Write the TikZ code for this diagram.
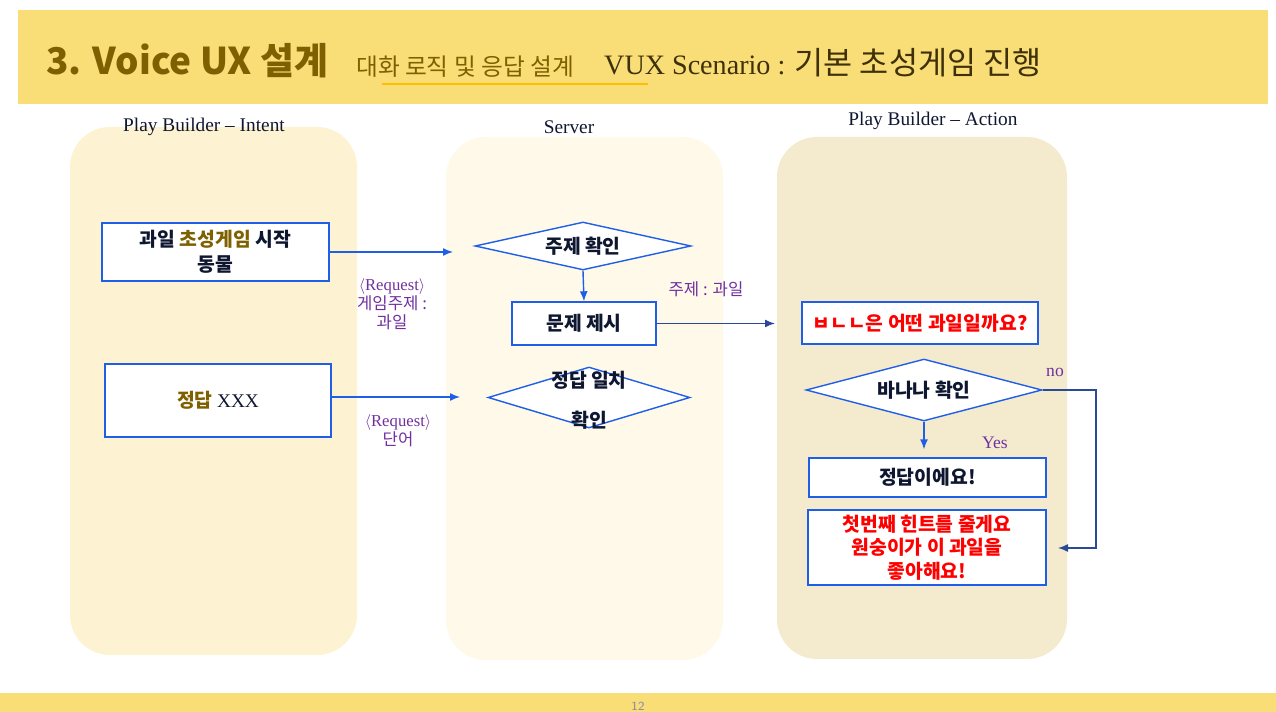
\documentclass[tikz,border=0pt]{standalone}
\usepackage{fontspec}
\setmainfont{Liberation Serif}
\newfontfamily\kr{Noto Sans CJK KR}
\usetikzlibrary{shapes.geometric,arrows.meta}
\definecolor{hdr}{HTML}{F9DE78}
\definecolor{gold}{HTML}{7F6000}
\definecolor{titlebrown}{HTML}{3F3008}
\definecolor{lanea}{HTML}{FDF2D2}
\definecolor{laneb}{HTML}{FEF9E9}
\definecolor{lanec}{HTML}{F4EACD}
\definecolor{boxblue}{HTML}{1F5FE8}
\definecolor{navy}{HTML}{2A4A98}
\definecolor{txt}{HTML}{0E1630}
\definecolor{lblpurple}{HTML}{7030A0}
\definecolor{pagenum}{HTML}{8C88A8}
\definecolor{undl}{HTML}{FFC000}
\begin{document}
\begin{tikzpicture}[x=0.02cm,y=-0.02cm,
	lane/.style={rounded corners=0.8cm},
	box/.style={draw=boxblue,line width=0.8pt,fill=white,inner sep=0pt,align=center,text=txt,font=\kr\bfseries\fontsize{11}{14}\selectfont},
	dia/.style={diamond,draw=boxblue,line width=0.8pt,fill=white,inner sep=0pt},
	flow/.style={draw=boxblue,line width=0.8pt,-{Latex[length=2mm,width=1.6mm]}},
	lbl/.style={text=lblpurple,align=center,font=\kr\fontsize{9.5}{10.8}\selectfont},
	head/.style={text=txt,font=\fontsize{11}{13}\selectfont}]
		\useasboundingbox (0,0) rectangle (1276,712);
		
		\fill[hdr] (18,10) rectangle (1268,104);
		\fill[hdr] (0,693) rectangle (1276,712);
		\draw[undl,line width=0.6pt] (382,84) -- (648,84);
		
		\node[anchor=west,text=gold,font=\kr\bfseries\fontsize{21}{25}\selectfont] (title) at (40,61) {3. Voice UX 설계};
		\node[anchor=west,text=gold,font=\kr\fontsize{13.5}{16}\selectfont] (subtitle) at (350,67) {대화 로직 및 응답 설계};
		\node[anchor=west,text=titlebrown,font=\fontsize{16}{20}\selectfont] (scenario) at (598,63) {VUX Scenario : {\kr\fontsize{18}{20}\selectfont 기본 초성게임 진행}};
		\node[text=pagenum,font=\sffamily\fontsize{7}{8}\selectfont] (page) at (638,706) {12};
		
		\fill[lanea,lane] (70,127) rectangle (357,655);
		\fill[laneb,lane] (446,137) rectangle (723,660);
		\fill[lanec,lane] (777,137) rectangle (1067,659);
		
		\node[head] (intent) at (204,127) {Play Builder -- Intent};
		\node[head] (server) at (569,127) {Server};
		\node[head] (action) at (933,121) {Play Builder -- Action};
		
		\node[box,minimum width=4.54cm,minimum height=1.16cm] (start) at (215.5,252) {과일 {\color{gold}초성게임} 시작\\동물};
		\node[box,minimum width=4.52cm,minimum height=1.46cm] (answer) at (218,400.5) {{\color{gold}정답} {\rmfamily\mdseries XXX}};
		
		\node[dia,minimum width=4.32cm,minimum height=0.96cm] (topic) at (583,246) {};
		\node[text=txt,font=\kr\bfseries\fontsize{11}{14}\selectfont] at (topic) {주제 확인};
		\node[box,minimum width=2.88cm,minimum height=0.86cm] (quiz) at (584,323.5) {문제 제시};
		\node[dia,minimum width=4.04cm,minimum height=1.22cm] (match) at (589,397.5) {};
		\node[text=txt,align=center,font=\kr\bfseries\fontsize{11}{23}\selectfont] at (589,400) {정답 일치\\확인};
		
		\node[box,text=red,minimum width=4.72cm,minimum height=0.84cm] (ask) at (920,323) {ㅂㄴㄴ은 어떤 과일일까요?};
		\node[dia,minimum width=4.72cm,minimum height=1.24cm] (banana) at (924,390) {};
		\node[text=txt,font=\kr\bfseries\fontsize{11}{14}\selectfont] at (banana) {바나나 확인};
		\node[box,minimum width=4.74cm,minimum height=0.78cm] (right) at (927.5,477.5) {정답이에요!};
		\node[box,text=red,minimum width=4.76cm,minimum height=1.5cm,font=\kr\bfseries\fontsize{11}{13.3}\selectfont] (hint) at (927,547.5) {첫번째 힌트를 줄게요\\원숭이가 이 과일을\\좋아해요!};
		
		\coordinate (c1) at (453,252);
		\coordinate (c2) at (460,397);
		\coordinate (c3) at (775,323.5);
		\coordinate (turn) at (1096,390);
		\coordinate (c4) at (1058,548);
		
		\draw[flow] (start.east) -- (c1);
		\draw[flow] (answer.east|-c2) -- (c2);
		\draw[flow] (topic.south) -- (quiz.north);
		\draw[flow,draw=navy] (quiz.east) -- (c3);
		\draw[flow,shorten >=0.16cm] (banana.south) -- (banana.south|-right.north);
		\draw[flow,draw=navy] (banana.east) -- (turn) |- (c4);
		
		\node[lbl] (req1) at (392,304) {{\rmfamily $\langle$Request$\rangle$}\\게임주제 :\\과일};
		\node[lbl] (req2) at (398,431) {{\rmfamily $\langle$Request$\rangle$}\\단어};
		\node[lbl] (topiclbl) at (706,289) {주제 : 과일};
		\node[lbl,font=\fontsize{10}{12}\selectfont] (yes) at (995,443) {Yes};
		\node[lbl,font=\fontsize{10}{12}\selectfont] (no) at (1055,372) {no};
		
\end{tikzpicture}
\end{document}
